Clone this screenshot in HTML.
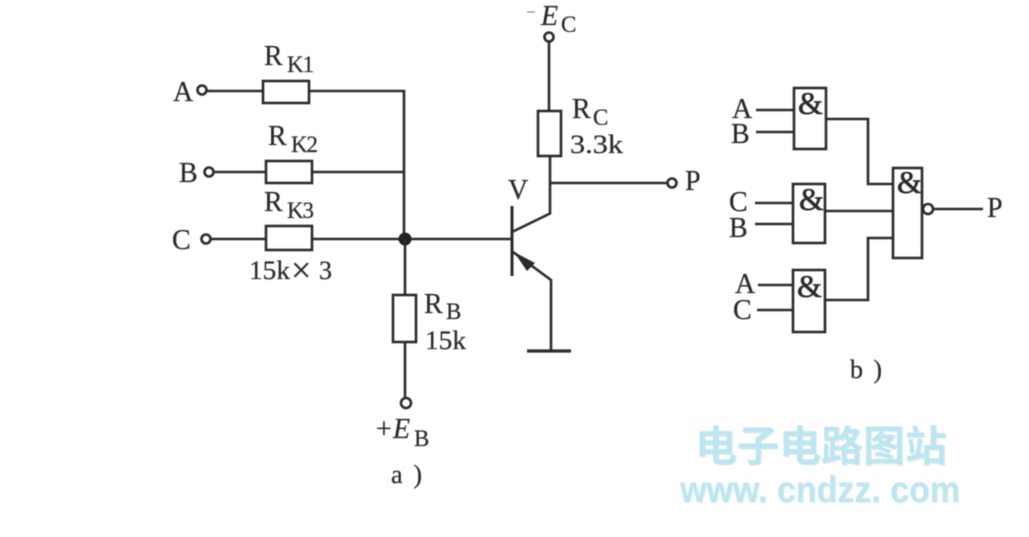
<!DOCTYPE html>
<html>
<head>
<meta charset="utf-8">
<style>
html,body{margin:0;padding:0;background:#fff;width:1029px;height:537px;overflow:hidden}
svg{display:block}
.t{font-family:"Liberation Serif",serif;fill:#2a2a2a;stroke:#2a2a2a;stroke-width:.25;font-size:28px}
.s{font-size:23px}
.m{font-size:26px}
.a{font-size:32px;stroke-width:.6}
.i{font-style:italic}
.w{font-family:"Liberation Sans","Noto Sans CJK SC",sans-serif;font-weight:bold;fill:#bde6f0}
.ws{font-family:"Liberation Sans","Noto Sans CJK SC",sans-serif;font-weight:bold;fill:#e6eef0}
</style>
</head>
<body>
<svg width="1029" height="537" viewBox="0 0 1029 537" xmlns="http://www.w3.org/2000/svg">
<g style="filter:blur(0.5px)" fill="none" stroke="#2b2b2b" stroke-width="2.6">
  <!-- Inputs -->
  <circle cx="202" cy="90" r="4.5"/>
  <path d="M207 91H262M309 91H404V239"/>
  <rect x="263" y="81" width="46" height="22"/>
  <circle cx="209" cy="172" r="4.5"/>
  <path d="M214 172H265M312 172H404"/>
  <rect x="266" y="161" width="46" height="22"/>
  <circle cx="206" cy="239" r="4.5"/>
  <path d="M211 239H265M312 239H512"/>
  <rect x="266" y="226" width="46" height="24"/>
  <circle cx="405" cy="239" r="6.5" fill="#222" stroke="none"/>
  <!-- RB -->
  <path d="M405 239V295M405 342V398"/>
  <rect x="393" y="295" width="23" height="47"/>
  <circle cx="406" cy="403" r="5"/>
  <!-- RC -->
  <circle cx="549" cy="37" r="4.5"/>
  <path d="M549 42V111M550 156V213"/>
  <rect x="538" y="111" width="23" height="45"/>
  <path d="M550 183H667"/>
  <circle cx="672" cy="183" r="4.5"/>
  <!-- Transistor -->
  <path d="M512 206V276" stroke-width="3"/>
  <path d="M512 232L551 213"/>
  <path d="M513 252L551 280V351"/>
  <path d="M527 351H571" stroke-width="3.2"/>
  <path d="M514 252L535 263L527 271Z" fill="#2b2b2b" stroke="none"/>
  <!-- Gates -->
  <rect x="794" y="88" width="32" height="61"/>
  <rect x="793" y="184" width="32" height="59"/>
  <rect x="793" y="270" width="32" height="62"/>
  <rect x="893" y="168" width="29" height="90"/>
  <path d="M756 110H794M756 132H794M826 119H868V184H893"/>
  <path d="M755 203H793M755 224H793M825 211H893"/>
  <path d="M758 285H793M757 310H793M825 300H868V238H893"/>
  <circle cx="928" cy="209" r="5"/>
  <path d="M933 209H983"/>
  <path d="M527 12H535" stroke-width="1" stroke="#777"/>
</g>
<g style="filter:blur(0.4px)">
  <text class="t" x="173" y="101">A</text>
  <text class="t" x="179" y="182">B</text>
  <text class="t" x="172" y="249">C</text>
  <text class="t" x="264" y="65">R</text><text class="t s" x="287" y="72" textLength="27">K1</text>
  <text class="t" x="268" y="145">R</text><text class="t s" x="291" y="152" textLength="27">K2</text>
  <text class="t" x="264" y="211">R</text><text class="t s" x="287" y="218" textLength="27">K3</text>
  <text class="t m" x="249" y="279" textLength="41" lengthAdjust="spacingAndGlyphs">15k</text><text class="t" x="291" y="282" style="font-size:36px">×</text><text class="t m" x="319" y="279">3</text>
  <text class="t" x="424" y="313">R</text><text class="t s" x="446" y="319">B</text>
  <text class="t m" x="425" y="349" textLength="41" lengthAdjust="spacingAndGlyphs">15k</text>
  <text class="t" x="376" y="438">+</text><text class="t i" x="393" y="438">E</text><text class="t s" x="414" y="446">B</text>
  <text class="t m" x="391" y="483" textLength="31">a )</text>
  <text class="t i" x="541" y="25">E</text><text class="t s" x="561" y="32">C</text>
  <text class="t" x="572" y="118">R</text><text class="t s" x="593" y="125">C</text>
  <text class="t m" x="570" y="153" textLength="53" lengthAdjust="spacingAndGlyphs">3.3k</text>
  <text class="t" x="508" y="199">V</text>
  <text class="t" x="685" y="190">P</text>
  <text class="t" x="732" y="118">A</text>
  <text class="t" x="731" y="143">B</text>
  <text class="t" x="729" y="211">C</text>
  <text class="t" x="729" y="237">B</text>
  <text class="t" x="735" y="293">A</text>
  <text class="t" x="733" y="319">C</text>
  <text class="t a" x="798" y="114">&amp;</text>
  <text class="t a" x="799" y="210">&amp;</text>
  <text class="t a" x="797" y="297">&amp;</text>
  <text class="t a" x="897" y="193">&amp;</text>
  <text class="t" x="987" y="217">P</text>
  <text class="t m" x="850" y="378" textLength="32">b )</text>
</g>
<!-- Watermark -->
<g style="filter:blur(0.6px)">
  <text class="ws" x="696" y="462" style="font-size:42px">电子电路图站</text>
  <text class="w" x="695" y="461" style="font-size:42px">电子电路图站</text>
  <text class="ws" x="681" y="503" textLength="280" lengthAdjust="spacingAndGlyphs" style="font-size:37px">www. cndzz. com</text>
  <text class="w" x="680" y="502" textLength="280" lengthAdjust="spacingAndGlyphs" style="font-size:37px">www. cndzz. com</text>
</g>
</svg>
</body>
</html>
